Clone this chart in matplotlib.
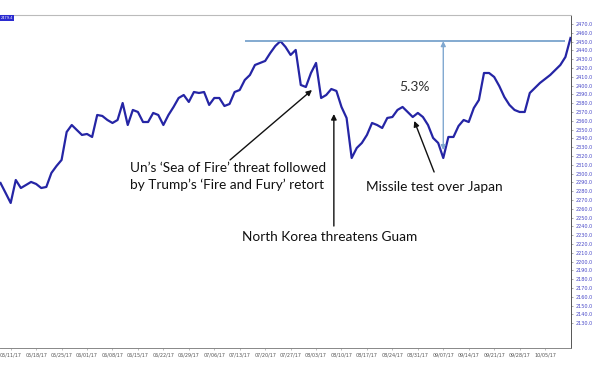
import matplotlib
matplotlib.use("Agg")
import matplotlib.pyplot as plt

# trading-day index (0 = 05/09/17) and closing level
days = list(range(113))
level = [
    2289.3, 2278.0, 2266.6, 2292.7, 2283.6, 2287.0, 2290.5, 2288.2, 2283.6, 2284.8,
    2300.7, 2308.6, 2315.5, 2347.3, 2355.2, 2349.5, 2343.9, 2345.0, 2341.6, 2366.6,
    2365.5, 2360.9, 2357.5, 2360.9, 2380.2, 2355.2, 2372.3, 2370.0, 2358.6, 2358.6,
    2368.9, 2366.6, 2355.2, 2366.6, 2375.7, 2385.9, 2389.3, 2381.4, 2392.7, 2391.6,
    2392.7, 2378.0, 2385.9, 2385.9, 2376.8, 2379.1, 2392.7, 2395.0, 2406.4, 2412.0,
    2423.4, 2425.7, 2428.0, 2437.0, 2445.0, 2450.5, 2443.9, 2434.8, 2440.5, 2400.7,
    2398.4, 2414.3, 2425.7, 2385.9, 2389.3, 2396.1, 2393.9, 2375.7, 2363.2, 2317.7,
    2329.1, 2334.8, 2343.9, 2357.5, 2355.2, 2351.8, 2363.2, 2364.3, 2372.3, 2375.7,
    2370.0, 2364.3, 2368.9, 2364.3, 2355.2, 2340.5, 2334.8, 2317.7, 2341.6, 2341.6,
    2354.1, 2360.9, 2358.6, 2374.5, 2383.6, 2414.3, 2414.3, 2409.8, 2399.5, 2387.0,
    2378.0, 2372.3, 2370.0, 2370.0, 2391.6, 2397.3, 2403.0, 2407.5, 2412.0, 2417.7,
    2423.4, 2432.5, 2454.1,
]

tick_days = list(range(2, 110, 5))
tick_labels = ["05/11/17", "05/18/17", "05/25/17", "06/01/17", "06/08/17", "06/15/17",
               "06/22/17", "06/29/17", "07/06/17", "07/13/17", "07/20/17", "07/27/17",
               "08/03/17", "08/10/17", "08/17/17", "08/24/17", "08/31/17", "09/07/17",
               "09/14/17", "09/21/17", "09/28/17", "10/05/17"]
y_ticks = list(range(2130, 2480, 10))

peak = max(level[:60])
trough_day = 87
trough = level[trough_day]

fig = plt.figure(figsize=(6, 3.67), dpi=100)
ax = fig.add_axes([0.0, 0.0518, 0.9517, 0.9073])

ax.plot(days, level, color="#2525a5", lw=1.6, solid_joinstyle="round")
ax.hlines(peak, 48, 111.0, color="#6e9cc8", lw=1.2)

# drawdown arrow
ax.annotate("", xy=(trough_day, peak), xytext=(trough_day, trough + 9),
            arrowprops=dict(arrowstyle="<|-|>", color="#80a8d0", lw=1.0,
                            mutation_scale=7, shrinkA=0, shrinkB=0))
ax.text(81.4, 2398.4, "5.3%", fontsize=10, family="Lato", color="#333333",
        ha="center", va="center")

txt = dict(fontsize=9.8, family="Lato", color="#111111")
arrow = dict(arrowstyle="-|>", color="#111111", lw=1.0, mutation_scale=8,
             shrinkA=0, shrinkB=0)

ax.annotate("", xy=(61.2, 2395), xytext=(45.1, 2315.5), arrowprops=arrow)
ax.text(25.5, 2313, "Un\u2019s \u2018Sea of Fire\u2019 threat followed\n"
        "by Trump\u2019s \u2018Fire and Fury\u2019 retort",
        ha="left", va="top", linespacing=1.4, **txt)

ax.annotate("", xy=(65.5, 2367.7), xytext=(65.5, 2240.4), arrowprops=arrow)
ax.text(64.7, 2228, "North Korea threatens Guam", ha="center", va="center", **txt)

ax.annotate("", xy=(81.3, 2359.8), xytext=(85.2, 2301.8), arrowprops=arrow)
ax.text(85.2, 2284.8, "Missile test over Japan", ha="center", va="center", **txt)

# small price tag at top-left
ax.text(0.001, 0.997, "2479.4", transform=ax.transAxes, fontsize=2.5,
        color="white", ha="left", va="top",
        bbox=dict(boxstyle="square,pad=0.3", fc="#2b2bd0", ec="none"))

ax.set_xlim(-0.1, 112.1)
ax.set_ylim(2101.8, 2480.2)

ax.set_xticks(tick_days)
ax.set_xticklabels(tick_labels)
ax.yaxis.tick_right()
ax.set_yticks(y_ticks)
ax.set_yticklabels([f"{v:.1f}" for v in y_ticks])
ax.tick_params(axis="x", labelsize=3.5, labelcolor="#555555", length=1.5,
               width=0.4, color="#888888", pad=1.5)
ax.tick_params(axis="y", labelsize=3.5, labelcolor="#4848c8", length=1.5,
               width=0.4, color="#666666", pad=1.5)

ax.spines["left"].set_visible(False)
ax.spines["top"].set_color("#bbbbbb")
ax.spines["top"].set_linewidth(0.8)
ax.spines["right"].set_color("#555555")
ax.spines["right"].set_linewidth(0.7)
ax.spines["bottom"].set_color("#888888")
ax.spines["bottom"].set_linewidth(0.7)
ax.spines["bottom"].set_linestyle((0, (2, 1)))

fig.savefig("out.png", dpi=100)
